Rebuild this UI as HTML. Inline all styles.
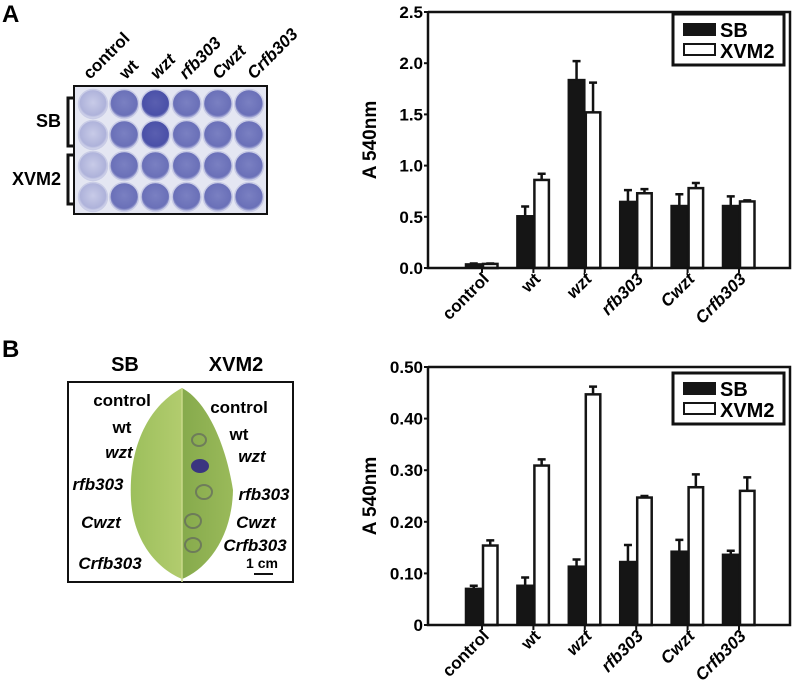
<!DOCTYPE html>
<html><head><meta charset="utf-8"><style>
html,body{margin:0;padding:0;background:#fff}
svg{display:block;font-family:"Liberation Sans",Arial,sans-serif;font-weight:bold}
</style></head><body>
<svg id="fig" width="795" height="690" viewBox="0 0 795 690" xmlns="http://www.w3.org/2000/svg">
<defs>
<radialGradient id="wellDark" cx="50%" cy="45%" r="55%"><stop offset="0" stop-color="#5a5fb0"/><stop offset="0.8" stop-color="#4a50a8"/><stop offset="1" stop-color="#b8bce0"/></radialGradient>
<radialGradient id="wellMid" cx="50%" cy="45%" r="55%"><stop offset="0" stop-color="#7a80c2"/><stop offset="0.8" stop-color="#6a70b8"/><stop offset="1" stop-color="#c5c8e6"/></radialGradient>
<radialGradient id="wellLight" cx="50%" cy="45%" r="55%"><stop offset="0" stop-color="#c8cbe8"/><stop offset="0.8" stop-color="#aeb2da"/><stop offset="1" stop-color="#dfe1f2"/></radialGradient>
<linearGradient id="leafL" x1="0" x2="1"><stop offset="0" stop-color="#9cbf5c"/><stop offset="1" stop-color="#b2cc6e"/></linearGradient>
<linearGradient id="leafR" x1="0" x2="1"><stop offset="0" stop-color="#86aa4c"/><stop offset="1" stop-color="#9aba5a"/></linearGradient>
</defs>

<text x="2" y="22" font-size="24">A</text>
<g font-size="17">
<text transform="translate(90,80) rotate(-45)">control</text>
<text transform="translate(126,80) rotate(-45)">wt</text>
<text transform="translate(157,80) rotate(-45)" font-style="italic">wzt</text>
<text transform="translate(186,80) rotate(-45)" font-style="italic">rfb303</text>
<text transform="translate(219,80) rotate(-45)" font-style="italic">Cwzt</text>
<text transform="translate(254,80) rotate(-45)" font-style="italic">Crfb303</text>
</g>
<rect x="74" y="86" width="193" height="128" fill="#e4e6f2" stroke="#111" stroke-width="2"/>
<g id="wells"></g>
<path d="M74,98 H68 V146 H74 M74,155 H68 V204 H74" fill="none" stroke="#111" stroke-width="3"/>
<text x="61" y="127" font-size="18" text-anchor="end">SB</text>
<text x="61" y="185" font-size="18" text-anchor="end">XVM2</text>

<text x="2" y="357" font-size="24">B</text>
<text x="125" y="371" font-size="20" text-anchor="middle">SB</text>
<text x="236" y="371" font-size="20" text-anchor="middle">XVM2</text>
<rect x="68" y="382" width="225" height="200" fill="#fff" stroke="#111" stroke-width="2"/>
<path d="M182,388 C150,405 128,445 131,500 C134,545 160,570 182,579 Z" fill="url(#leafL)"/>
<path d="M182,388 C205,400 225,440 233,490 C232,540 205,570 182,579 Z" fill="url(#leafR)"/>
<line x1="182" y1="388" x2="182" y2="582" stroke="#c9d98a" stroke-width="1.5"/>
<g fill="none" stroke="#5a5a60" stroke-width="2">
<ellipse cx="199" cy="440" rx="7" ry="6" opacity="0.6"/>
<ellipse cx="200" cy="466" rx="8" ry="6" fill="#3a3580" stroke="#3a3580"/>
<ellipse cx="204" cy="492" rx="8" ry="7" opacity="0.6"/>
<ellipse cx="193" cy="521" rx="8" ry="7" opacity="0.6"/>
<ellipse cx="193" cy="545" rx="8" ry="7" opacity="0.6"/>
</g>
<g font-size="17">
<text x="122" y="406" text-anchor="middle">control</text>
<text x="122" y="433" text-anchor="middle">wt</text>
<text x="119" y="458" font-style="italic" text-anchor="middle">wzt</text>
<text x="98" y="490" font-style="italic" text-anchor="middle">rfb303</text>
<text x="101" y="528" font-style="italic" text-anchor="middle">Cwzt</text>
<text x="110" y="569" font-style="italic" text-anchor="middle">Crfb303</text>
</g>
<g font-size="17">
<text x="239" y="413" text-anchor="middle">control</text>
<text x="239" y="440" text-anchor="middle">wt</text>
<text x="252" y="462" font-style="italic" text-anchor="middle">wzt</text>
<text x="264" y="500" font-style="italic" text-anchor="middle">rfb303</text>
<text x="256" y="528" font-style="italic" text-anchor="middle">Cwzt</text>
<text x="255" y="551" font-style="italic" text-anchor="middle">Crfb303</text>
</g>
<text x="262" y="568" font-size="14" text-anchor="middle">1 cm</text>
<line x1="254" y1="574" x2="273" y2="574" stroke="#111" stroke-width="2"/>

<g id="chartA"></g>
<g id="chartB"></g>
</svg>
<script>
const categories = ["control","wt","wzt","rfb303","Cwzt","Crfb303"];
const italicCats = [false,false,true,true,true,true];
const aTicks = ["0.0","0.5","1.0","1.5","2.0","2.5"];
const aTickVals = [0,0.5,1.0,1.5,2.0,2.5];
const aSB = [0.04,0.51,1.84,0.65,0.61,0.61];
const aSBErr = [0.004,0.09,0.18,0.11,0.11,0.09];
const aXVM = [0.04,0.86,1.52,0.73,0.78,0.65];
const aXVMErr = [0.004,0.06,0.29,0.04,0.05,0.01];
const bTicks = ["0","0.10","0.20","0.30","0.40","0.50"];
const bTickVals = [0,0.1,0.2,0.3,0.4,0.5];
const bSB = [0.071,0.077,0.114,0.123,0.143,0.137];
const bSBErr = [0.005,0.015,0.013,0.032,0.022,0.007];
const bXVM = [0.154,0.309,0.447,0.247,0.267,0.260];
const bXVMErr = [0.010,0.012,0.015,0.003,0.025,0.026];

const NS="http://www.w3.org/2000/svg";
function mk(tag,attrs,parent){const e=document.createElementNS(NS,tag);for(const k in attrs)e.setAttribute(k,attrs[k]);parent.appendChild(e);return e;}

const wg=document.getElementById('wells');
const wellShade=[["wellLight","wellMid","wellDark","wellMid","wellMid","wellMid"],["wellLight","wellMid","wellDark","wellMid","wellMid","wellMid"],["wellLight","wellMid","wellMid","wellMid","wellMid","wellMid"],["wellLight","wellMid","wellMid","wellMid","wellMid","wellMid"]];
for(let r=0;r<4;r++)for(let c=0;c<6;c++){
  const w=mk('circle',{cx:93+c*31.2,cy:104+r*31,r:14.5,fill:'url(#'+wellShade[r][c]+')',stroke:'#c9cce6','stroke-width':1.5},wg);
  
  
}

function drawChart(g,o){
  const x0=428,x1=790,yTop=o.yTop,yBot=o.yBot,max=o.max;
  const y=v=>yBot-(v/max)*(yBot-yTop);
  const cx=i=>482+i*51.4;
  const bw=16.5;
  for(let i=0;i<categories.length;i++){
    const c=cx(i);
    [[o.sb,o.sbE,c-bw/2],[o.xv,o.xvE,c+bw/2]].forEach(([vals,errs,bx])=>{
      const top=y(vals[i]+errs[i]);
      const eb=mk('path',{d:`M${bx},${y(vals[i])} V${top} M${bx-4},${top} H${bx+4}`,stroke:'#111','stroke-width':2.5,fill:'none'},g);
      
      
    });
    const b1=mk('rect',{x:c-bw,y:y(o.sb[i]),width:bw,height:yBot-y(o.sb[i]),fill:'#151515',stroke:'#151515','stroke-width':1.5},g);
    
    
    const b2=mk('rect',{x:c+1,y:y(o.xv[i]),width:bw-2,height:yBot-y(o.xv[i]),fill:'#fff',stroke:'#151515','stroke-width':2.5},g);
    
    
    const t=mk('line',{x1:c,x2:c,y1:yBot,y2:yBot+5,stroke:'#111','stroke-width':2},g);
    
    
    const lbl=mk('text',{transform:`translate(${c+8},${yBot+12}) rotate(-45)`,'text-anchor':'end','font-size':17},g);
    if(italicCats[i]&&o.italic)lbl.setAttribute('font-style','italic');
    lbl.textContent=categories[i];
    
    
  }
  const fr=mk('path',{d:`M${x0},${yTop} V${yBot} H${x1} V${yTop} H${x0}`,fill:'none',stroke:'#111','stroke-width':2.5},g);
  
  
  for(let k=0;k<o.ticks.length;k++){
    const ty=y(o.tickVals[k]);
    const tl=mk('line',{x1:x0-4,x2:x0,y1:ty,y2:ty,stroke:'#111','stroke-width':2},g);
    
    
    const tt=mk('text',{x:x0-5,y:ty+6,'text-anchor':'end','font-size':17},g);
    tt.textContent=o.ticks[k];
    
    
  }
  const yt=mk('text',{transform:`translate(376,${(yTop+yBot)/2}) rotate(-90)`,'text-anchor':'middle','font-size':19},g);
  yt.textContent='A 540nm';
  
  
  const ly=o.legY;
  const lb=mk('rect',{x:673,y:ly,width:111,height:51,fill:'#fff',stroke:'#111','stroke-width':3},g);
  
  
  mk('rect',{x:683,y:ly+9,width:33,height:13,fill:'#151515'},g);
  mk('rect',{x:684,y:ly+30,width:31,height:11,fill:'#fff',stroke:'#151515','stroke-width':2},g);
  const l1=mk('text',{x:720,y:ly+23,'font-size':20},g);l1.textContent='SB';
  
  
  const l2=mk('text',{x:720,y:ly+44,'font-size':20},g);l2.textContent='XVM2';
  
  
}
drawChart(document.getElementById('chartA'),{yTop:12,yBot:268,max:2.5,sb:aSB,sbE:aSBErr,xv:aXVM,xvE:aXVMErr,ticks:aTicks,tickVals:aTickVals,legY:14,italic:true});
drawChart(document.getElementById('chartB'),{yTop:367,yBot:625,max:0.5,sb:bSB,sbE:bSBErr,xv:bXVM,xvE:bXVMErr,ticks:bTicks,tickVals:bTickVals,legY:373,italic:true});
</script>
</body></html>
